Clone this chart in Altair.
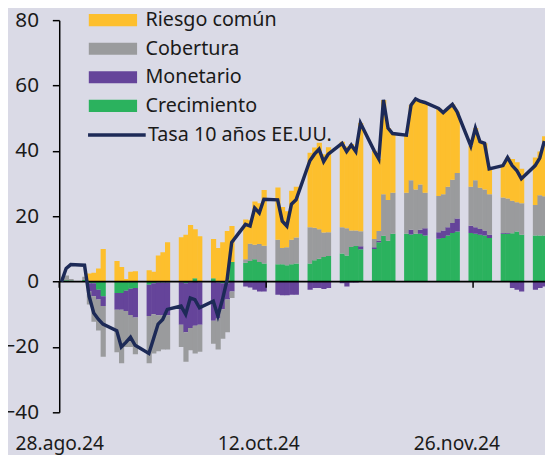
import altair as alt
import pandas as pd

# ---------------- data ----------------
fechas = [
    "2024-08-28", "2024-08-29", "2024-08-30", "2024-09-02",
    "2024-09-03", "2024-09-04", "2024-09-05", "2024-09-06",
    "2024-09-09", "2024-09-10", "2024-09-11", "2024-09-12", "2024-09-13",
    "2024-09-16", "2024-09-17", "2024-09-18", "2024-09-19", "2024-09-20",
    "2024-09-23", "2024-09-24", "2024-09-25", "2024-09-26", "2024-09-27",
    "2024-09-30", "2024-10-01", "2024-10-02", "2024-10-03", "2024-10-04",
    "2024-10-07", "2024-10-08", "2024-10-09", "2024-10-10", "2024-10-11",
    "2024-10-14", "2024-10-15", "2024-10-16", "2024-10-17", "2024-10-18",
    "2024-10-21", "2024-10-22", "2024-10-23", "2024-10-24", "2024-10-25",
    "2024-10-28", "2024-10-29", "2024-10-30", "2024-10-31", "2024-11-01",
    "2024-11-04", "2024-11-05", "2024-11-06", "2024-11-07", "2024-11-08",
    "2024-11-11", "2024-11-12", "2024-11-13", "2024-11-14", "2024-11-15",
    "2024-11-18", "2024-11-19", "2024-11-20", "2024-11-21", "2024-11-22",
    "2024-11-25", "2024-11-26", "2024-11-27", "2024-11-28", "2024-11-29",
    "2024-12-02", "2024-12-03", "2024-12-04", "2024-12-05", "2024-12-06",
    "2024-12-09", "2024-12-10", "2024-12-11",
]

riesgo_comun = [
    0, 0, 0, 0,
    2.5, 2.7, 4, 10,
    6.3, 4.5, 0.8, 3, 3.2,
    3.5, 3, 8, 9, 12,
    13.6, 14.3, 17.3, 15, 13.9,
    12, 10.3, 12, 15.5, 11,
    12.2, 7.2, 13.2, 12.5, 17,
    16, 12.5, 11, 15, 15.5,
    22.8, 24.5, 26.5, 24, 26,
    26.2, 25, 26.5, 24.5, 33.1,
    27, 22, 28.9, 22, 18.1,
    17.6, 23, 27.7, 25.5, 27.6,
    26.8, 25, 24, 23, 18.8,
    12.5, 16, 14.1, 14.1, 7.8,
    9.8, 12.6, 12.8, 12.2, 10.5,
    14.6, 13.4, 18.4,
]

cobertura = [
    0.3, 1.5, 0.5, 1.0,
    -4.0, -7.8, -9.5, -15.5,
    -13, -16.4, -11, -9.8, -11.2,
    -14.5, -12, -11, -10.5, -10.5,
    -6.8, -9, -6.8, -8.5, -8.3,
    -7, -9.5, -9, -10, -2,
    1.0, 5.3, 4.5, 5.5, 5.5,
    7.5, 5, 5.5, 7.5, 8,
    11.1, 10, 9, 7.5, 7.3,
    8, 8.3, 5, 4.7, 4.6,
    2.5, 3, 12.7, 12.5, 12.6,
    12.6, 15.1, 13.6, 13.8, 10.9,
    11.1, 11.1, 12.4, 13.3, 13.9,
    11.9, 14.4, 12.6, 12.6, 12.4,
    10.8, 10.5, 9.9, 9, 9.7,
    9.3, 12.3, 12,
]

monetario = [
    0, 0, 0, 0,
    -2.5, -4.0, -3, -3,
    -5.1, -5.1, -6.2, -8, -9,
    -9.5, -9.5, -10, -10, -10,
    -13, -15, -14, -13.5, -13,
    -12, -11, -8, -5, -3,
    -1.5, -1.8, -2.5, -3, -3,
    -4, -4.2, -4.2, -4, -4,
    -2.5, -2, -2, -2.3, -2,
    -0.5, -1.5, -0.3, -0.3, 0.9,
    0.5, 0.5, 0, 0, 0,
    0, 1.5, 0, 1.3, 2.2,
    2, 2.3, 2.5, 3, 4,
    2.2, 2, 1.8, 1.5, 1,
    0.3, 0.3, -2, -2.5, -3,
    -2.5, -2, -1.5,
]

crecimiento = [
    0, 0.4, 0.3, 0.5,
    -0.5, -0.5, -2.5, -4.5,
    -3.5, -3.5, -2.8, -2.2, -2,
    -1.0, -0.5, -0.3, -0.3, -0.3,
    -0.2, -0.5, -0.2, 1.0, -0.2,
    1.0, -0.3, -0.5, -0.5, 6,
    5.8, 6.3, 6.8, 6, 5.5,
    5.3, 5.3, 5.0, 5.3, 5.5,
    5.5, 6.5, 7, 7.5, 7.8,
    8.6, 8, 10.6, 10.9, 9.9,
    10, 12, 14, 12.5, 14.6,
    14.6, 14.4, 14.6, 14.6, 14.1,
    13.1, 13.3, 14.1, 14.9, 15.3,
    14.9, 14.6, 14.3, 14.1, 13.3,
    14.6, 14.6, 14.8, 15.3, 14.3,
    14.1, 14.1, 14.1,
]

tasa_10_anos = [
    0, 4, 5.2, 5.0,
    -4.5, -9.6, -11.5, -13,
    -15, -20, -18.6, -17, -19.5,
    -22, -17.5, -13, -11.6, -8.5,
    -7.5, -10, -5, -5.5, -8,
    -6, -10.5, -5.5, 0.5, 12,
    17.5, 17, 22.5, 21, 25.2,
    25, 18.5, 17, 23.7, 25,
    37, 39, 40.5, 36.7, 39,
    42.3, 39.8, 41.8, 39.8, 48.5,
    40, 37.5, 55.6, 47, 45.3,
    44.8, 54, 55.9, 55.2, 54.8,
    53, 51.7, 53, 54.2, 52,
    41.5, 47, 42.8, 42.3, 34.5,
    35.5, 38, 35.5, 34, 31.5,
    35.5, 37.8, 43,
]

series_barras = ["Riesgo común", "Cobertura", "Monetario", "Crecimiento"]
serie_linea = "Tasa 10 años EE.UU."
fechas_eje = ["2024-08-28", "2024-10-12", "2024-11-26"]
etiquetas_eje = ["28.ago.24", "12.oct.24", "26.nov.24"]
valores_eje_y = [-40, -20, 0, 20, 40, 60, 80]

# ---------------- build tables ----------------
DAY = 86400000


def ms(s):
    return int(pd.Timestamp(s, tz="UTC").value // 10**6)


valores = {
    "Riesgo común": riesgo_comun,
    "Cobertura": cobertura,
    "Monetario": monetario,
    "Crecimiento": crecimiento,
}
orden_pila = ["Crecimiento", "Monetario", "Cobertura", "Riesgo común"]

rows = []
for i, f in enumerate(fechas):
    t0 = ms(f)
    t1 = t0 + DAY + DAY // 8
    pos = 0.0
    neg = 0.0
    for s in orden_pila:
        v = valores[s][i]
        if v >= 0:
            a, b = pos, pos + v
            pos += v
        else:
            a, b = neg, neg + v
            neg += v
        rows.append({"t0": t0, "t1": t1, "serie": s, "y0": a, "y1": b})
df_bars = pd.DataFrame(rows)

df_line = pd.DataFrame({
    "t0": [ms(f) + DAY // 2 for f in fechas],
    "tasa": tasa_10_anos,
    "serie": [serie_linea] * len(fechas),
})

tick_ms = [ms(f) for f in fechas_eje]
df_ticks = pd.DataFrame({"t0": tick_ms})

x_ini = ms("2024-08-28")
x_fin = x_ini + int(105.64 * DAY)
xscale = alt.Scale(type="utc", domain=[x_ini, x_fin])
yscale = alt.Scale(domain=[-40, 80], nice=False, zero=False)

# label text picked by the tick's own timestamp
label_expr = " : ".join(
    f"abs(time(datum.value) - {t}) < 3600000 ? '{lab}'"
    for t, lab in zip(tick_ms[:-1], etiquetas_eje[:-1])
) + f" : '{etiquetas_eje[-1]}'"

FONT = "Noto Sans"
TXT = "#1a1a1a"
NAVY = "#1d2a57"

xaxis = alt.Axis(
    values=tick_ms,
    labelExpr=label_expr,
    domain=False,
    ticks=False,
    grid=False,
    labelFlush=False,
    labelPadding=23,
    labelFontSize=19.5,
    labelOffset={
        "condition": [
            {"test": f"abs(time(datum.value) - {tick_ms[2]}) < 3600000", "value": -17},
            {"test": f"abs(time(datum.value) - {tick_ms[1]}) < 3600000", "value": -8},
        ],
        "value": 0,
    },
    title=None,
)

yaxis = alt.Axis(
    values=valores_eje_y,
    grid=False,
    domainColor="black",
    domainWidth=1.5,
    tickColor="black",
    tickWidth=1.5,
    tickSize=7,
    labelPadding=14,
    labelFontSize=21,
    title=None,
)

bars = alt.Chart(df_bars).mark_bar(clip=True).encode(
    x=alt.X("t0:T", scale=xscale, axis=xaxis, title=None),
    x2="t1:T",
    y=alt.Y("y0:Q", scale=yscale, axis=yaxis, title=None),
    y2="y1:Q",
    color=alt.Color(
        "serie:N",
        scale=alt.Scale(
            domain=series_barras,
            range=["#fdbf2d", "#9a9b9d", "#65449a", "#2bb25e"],
        ),
        legend=alt.Legend(
            title=None,
            orient="none",
            legendX=30,
            legendY=-12.5,
            symbolType="M-2,-0.5H2V0.5H-2Z",
            symbolSize=600,
            symbolOffset=12,
            symbolStrokeWidth=0,
            labelOffset=20.5,
            rowPadding=6,
            padding=0,
            labelLimit=500,
        ),
    ),
)

zero = alt.Chart(pd.DataFrame({"y0": [0]})).mark_rule(
    color="black", strokeWidth=1.6
).encode(y=alt.Y("y0:Q", scale=yscale, axis=yaxis, title=None))

ticks = alt.Chart(df_ticks).mark_rule(color="black", strokeWidth=1.5).encode(
    x=alt.X("t0:T", scale=xscale, axis=xaxis, title=None),
    y=alt.Y(datum=0, scale=yscale, axis=yaxis, title=None),
    y2=alt.Y2(datum=-1.9),
)

line = alt.Chart(df_line).mark_line(strokeWidth=3.5, clip=True).encode(
    x=alt.X("t0:T", scale=xscale, axis=xaxis, title=None),
    y=alt.Y("tasa:Q", scale=yscale, axis=yaxis, title=None),
    stroke=alt.Stroke(
        "serie:N",
        scale=alt.Scale(domain=[serie_linea], range=[NAVY]),
        legend=alt.Legend(
            title=None,
            orient="none",
            legendX=27,
            legendY=85,
            symbolType="stroke",
            symbolSize=3425,
            symbolStrokeWidth=3.5,
            labelOffset=0,
            padding=0,
            labelLimit=500,
        ),
    ),
)

chart = alt.layer(bars, zero, ticks, line).properties(
    width=493,
    height=398,
    autosize=alt.AutoSizeParams(type="none"),
    padding={"left": 52, "top": 9, "right": 0, "bottom": 40},
    background="#dadae6",
).configure_view(stroke=None).configure_axis(
    labelFont=FONT, labelColor=TXT
).configure_legend(
    labelFont=FONT, labelFontSize=20, labelColor=TXT
)

chart.save("out.html", embed_options={"renderer": "svg", "actions": False})
